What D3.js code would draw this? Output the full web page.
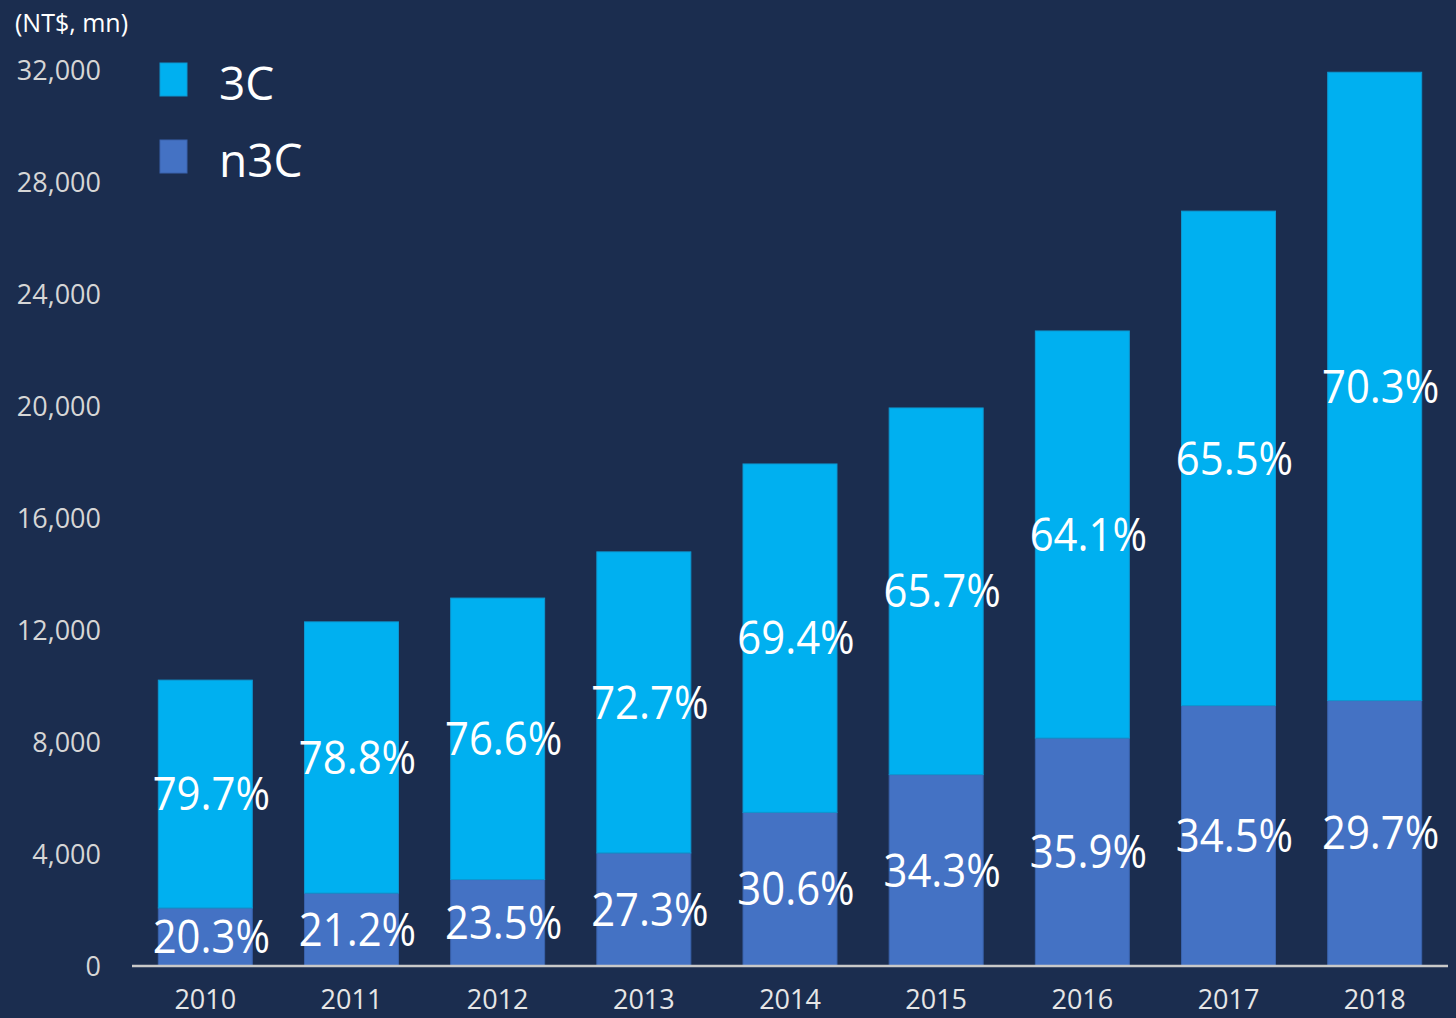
<!DOCTYPE html>
<html>
<head>
<meta charset="utf-8">
<script src="https://cdn.jsdelivr.net/npm/d3@7"></script>
<style>
  html, body { margin: 0; padding: 0; background: #1b2d4f; }
  svg { display: block; font-family: "Open Sans", sans-serif; }
  .tick-label { fill: #d6d6d6; font-size: 27px; }
  .year-label { fill: #e6e6e6; font-size: 27px; }
  .pct { fill: #ffffff; font-size: 45px; }
  .legend-text { fill: #ffffff; font-size: 46px; }
</style>
</head>
<body>
<svg width="1456" height="1018"></svg>
<script>
// chart data
var years = ["2010", "2011", "2012", "2013", "2014", "2015", "2016", "2017", "2018"];
var n3C = [2073, 2605, 3088, 4038, 5487, 6836, 8142, 9301, 9480];
var threeC = [8137, 9685, 10052, 10752, 12443, 13094, 14538, 17659, 22440];
var pct3C = ["79.7%", "78.8%", "76.6%", "72.7%", "69.4%", "65.7%", "64.1%", "65.5%", "70.3%"];
var pctN3C = ["20.3%", "21.2%", "23.5%", "27.3%", "30.6%", "34.3%", "35.9%", "34.5%", "29.7%"];
var yTicks = [0, 4000, 8000, 12000, 16000, 20000, 24000, 28000, 32000];

var colors = { "n3C": "#4472c4", "3C": "#00b0f0" };
var strokes = { "n3C": "#3a63ad", "3C": "#0d98d2" };

var rows = years.map(function(y, i) {
	return { year: y, "n3C": n3C[i], "3C": threeC[i], p3C: pct3C[i], pN3C: pctN3C[i] };
});

var svg = d3.select("svg");

var x = d3.scaleBand()
	.domain(years)
	.range([132, 1448])
	.paddingInner(0.357)
	.paddingOuter(0.18);

var y = d3.scaleLinear()
	.domain([0, 32000])
	.range([966, 70]);

var stack = d3.stack().keys(["n3C", "3C"]);
var series = stack(rows);

// bars
svg.selectAll("g.series")
	.data(series)
	.enter()
	.append("g")
	.attr("class", "series")
	.attr("fill", function(d) { return colors[d.key]; })
	.attr("stroke", function(d) { return strokes[d.key]; })
	.attr("stroke-width", 1)
	.selectAll("rect")
	.data(function(d) { return d; })
	.enter()
	.append("rect")
	.attr("x", function(d) { return x(d.data.year); })
	.attr("y", function(d) { return y(d[1]); })
	.attr("width", x.bandwidth())
	.attr("height", function(d) { return y(d[0]) - y(d[1]); });

// baseline
svg.append("line")
	.attr("x1", x.range()[0])
	.attr("x2", x.range()[1])
	.attr("y1", y(0))
	.attr("y2", y(0))
	.attr("stroke", "#c9c9c9")
	.attr("stroke-width", 2.5);

// strip d3's default axis fonts so the css applies
function plain(g) {
	g.attr("font-family", null).attr("font-size", null);
	g.select(".domain").remove();
	g.selectAll("text").attr("fill", null);
}

// y axis labels (no axis line)
var yAxis = d3.axisLeft(y)
	.tickValues(yTicks)
	.tickSize(0)
	.tickPadding(0)
	.tickFormat(d3.format(","));

var gy = svg.append("g")
	.attr("transform", "translate(101,0)")
	.call(yAxis)
	.call(plain);
gy.selectAll("text")
	.attr("class", "tick-label")
	.attr("dy", "0.36em");

// x axis labels
var xAxis = d3.axisBottom(x).tickSize(0).tickPadding(0);
var gx = svg.append("g")
	.attr("transform", "translate(0,1009)")
	.call(xAxis)
	.call(plain);
gx.selectAll("text")
	.attr("class", "year-label")
	.attr("dy", 0);

// percentage labels, centred in each segment
var labelDx = 6;
series.forEach(function(s) {
	svg.selectAll("text.pct-" + s.key)
		.data(s)
		.enter()
		.append("text")
		.attr("class", "pct")
		.attr("text-anchor", "middle")
		.attr("dy", "0.36em")
		.attr("transform", function(d) {
			var cx = x(d.data.year) + x.bandwidth() / 2 + labelDx;
			var cy = (y(d[0]) + y(d[1])) / 2;
			return "translate(" + cx + "," + cy + ") scale(0.93,1)";
		})
		.text(function(d) { return s.key === "3C" ? d.data.p3C : d.data.pN3C; });
});

// unit label
svg.append("text")
	.attr("x", 15)
	.attr("y", 32)
	.attr("fill", "#ffffff")
	.attr("font-size", "25px")
	.text("(NT$, mn)");

// legend
var legendData = [
	{ key: "3C", y: 63 },
	{ key: "n3C", y: 140 }
];
var lg = svg.selectAll("g.legend")
	.data(legendData)
	.enter()
	.append("g")
	.attr("class", "legend");
lg.append("rect")
	.attr("x", 160)
	.attr("y", function(d) { return d.y; })
	.attr("width", 27)
	.attr("height", 33)
	.attr("fill", function(d) { return colors[d.key]; })
	.attr("stroke", function(d) { return strokes[d.key]; });
lg.append("text")
	.attr("class", "legend-text")
	.attr("x", 219)
	.attr("y", function(d) { return d.y + 37; })
	.text(function(d) { return d.key; });
</script>
</body>
</html>
